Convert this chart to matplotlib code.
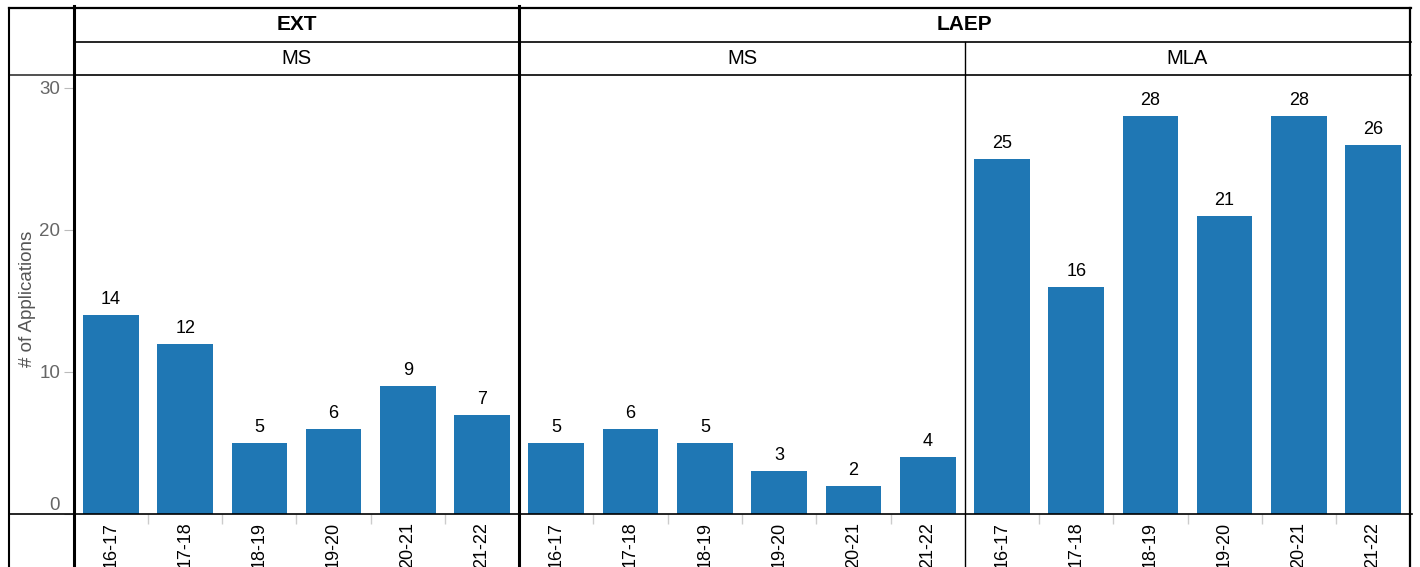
import matplotlib.pyplot as plt
from matplotlib.lines import Line2D

plt.rcParams['font.family'] = ['Liberation Sans', 'DejaVu Sans']

# data
years = ['16-17', '17-18', '18-19', '19-20', '20-21', '21-22']
ext_ms = [14, 12, 5, 6, 9, 7]
laep_ms = [5, 6, 5, 3, 2, 4]
laep_mla = [25, 16, 28, 21, 28, 26]

groups = ['EXT', 'LAEP']
subgroups = ['MS', 'MS', 'MLA']
panel_values = [ext_ms, laep_ms, laep_mla]

BAR_COLOR = '#1f77b4'
W, H = 1420, 567

fig = plt.figure(figsize=(W / 100, H / 100), dpi=100)


def fx(px):
    return px / W


def fy(py):
    return 1 - py / H


# panel edges in pixels
edges = [74, 519, 965, 1410]
plot_top, plot_bottom = 75, 514
ymax = (plot_bottom - plot_top) / 14.2

axes = []
for i, vals in enumerate(panel_values):
    left, right = edges[i], edges[i + 1]
    ax = fig.add_axes([fx(left), fy(plot_bottom), fx(right - left), (plot_bottom - plot_top) / H])
    bars = ax.bar(range(len(years)), vals, width=0.75, color=BAR_COLOR)
    ax.bar_label(bars, padding=5, fontsize=13, color='black')
    ax.set_xlim(-0.5, len(years) - 0.5)
    ax.set_ylim(0, ymax)
    for s in ax.spines.values():
        s.set_visible(False)
    ax.set_xticks(range(len(years)))
    ax.set_xticklabels(years, rotation=90, fontsize=13, va='top')
    ax.set_xticks([k + 0.5 for k in range(len(years) - 1)], minor=True)
    ax.tick_params(axis='x', which='major', length=0, pad=5.5)
    ax.tick_params(axis='x', which='minor', length=7, color='#cccccc', width=1)
    if i == 0:
        ax.set_yticks([0, 10, 20, 30])
        ax.tick_params(axis='y', length=7, color='#bbbbbb', labelcolor='#666666',
                       labelsize=13.5, pad=3)
        ax.get_yticklabels()[0].set_va('bottom')
        ax.set_ylabel('# of Applications', fontsize=13.5, color='#555555')
        ax.yaxis.set_label_coords(-0.086, 0.49)
    else:
        ax.set_yticks([])
    axes.append(ax)


def hline(y, x0, x1, lw=1.2, color='black'):
    fig.add_artist(Line2D([fx(x0), fx(x1)], [fy(y), fy(y)], lw=lw, color=color,
                          transform=fig.transFigure))


def vline(x, y0, y1, lw=1.2, color='black'):
    fig.add_artist(Line2D([fx(x), fx(x)], [fy(y0), fy(y1)], lw=lw, color=color,
                          transform=fig.transFigure))


# frame / header grid
hline(8, 9, 1411, lw=1.6)
hline(42, 74, 1411, lw=1.2)
hline(75, 9, 74, lw=1.2, color='#333333')
hline(75, 74, 1411, lw=1.2)
hline(514, 9, 1412, lw=1.2)
vline(9, 8, H, lw=1.5)
vline(74, 6, H, lw=2.2)
vline(519, 6, H, lw=2.2)
vline(965, 42, H, lw=1.0)
vline(1410, 8, H, lw=1.6)

# header text
fig.text(fx((74 + 519) / 2), fy(25), groups[0], ha='center', va='center',
         fontsize=15, fontweight='bold')
fig.text(fx((519 + 1410) / 2), fy(25), groups[1], ha='center', va='center',
         fontsize=15, fontweight='bold')
for i, name in enumerate(subgroups):
    fig.text(fx((edges[i] + edges[i + 1]) / 2), fy(58), name, ha='center',
             va='center', fontsize=14.5)

fig.savefig('out.png', dpi=100)
